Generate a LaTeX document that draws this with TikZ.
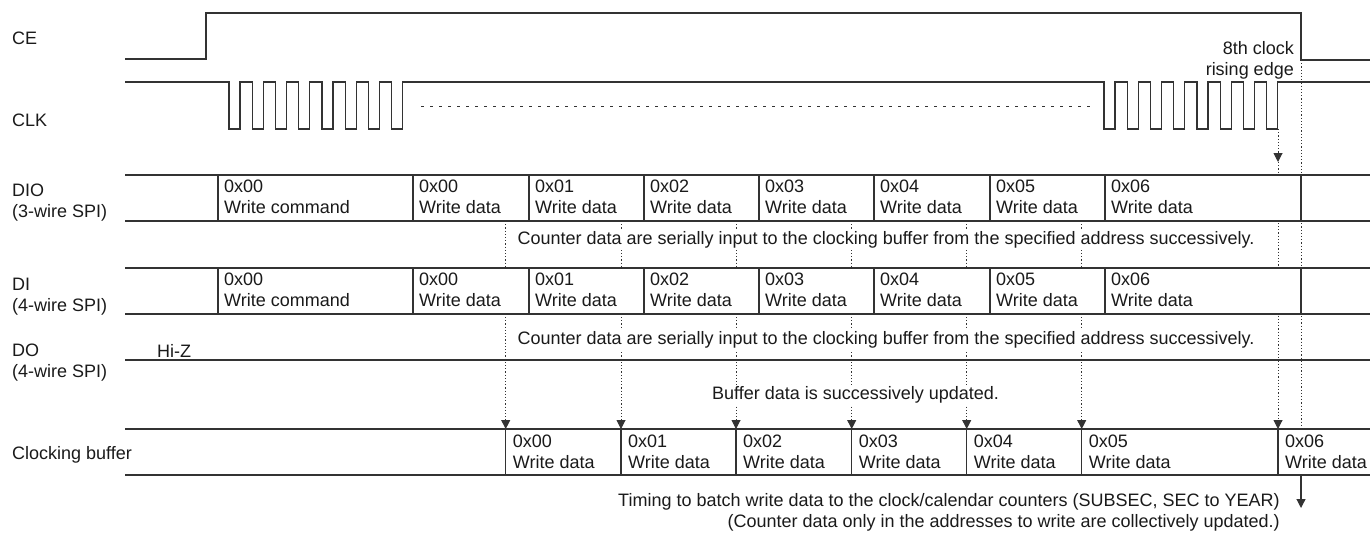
\documentclass[tikz,border=0pt]{standalone}
\usepackage{fontspec}
\setmainfont{Liberation Sans}
\usetikzlibrary{arrows.meta,positioning,calc}
\definecolor{tdInk} {HTML}{1A1A1A}
\definecolor{tdWire}{HTML}{333333}

\begin{document}
\begin{tikzpicture}[x=1pt,y=-1pt,font=\fontsize{18}{21}\selectfont,
    wire/.style={draw=tdWire,line width=1.2pt},
    dotline/.style={draw=tdWire,line width=1pt,dash pattern=on 1.2pt off 2pt},
    gapline/.style={draw=tdWire,line width=1pt,dash pattern=on 2.5pt off 6.5pt},
    tip/.style={-{Triangle[width=9pt,length=9pt]}},
    sig/.style={anchor=west,align=left,inner sep=0pt,text=tdInk},
    cell/.style={anchor=west,align=left,inner sep=0pt,text=tdInk},
    note/.style={fill=white,inner sep=1.5pt,text=tdInk}]

  \useasboundingbox (0,0) rectangle (1370,533);

  % signal names
  \node[sig] (ceName)  at (12,38)  {CE};
  \node[sig] (clkName) at (12,120) {CLK};
  \node[sig] (dioName) at (12,203) {DIO\\(3-wire SPI)};
  \node[sig] (diName)  at (12,297) {DI\\(4-wire SPI)};
  \node[sig] (doName)  at (12,363) {DO\\(4-wire SPI)};
  \node[sig] (bufName) at (12,455) {Clocking buffer};

  % CE
  \draw[wire] (125,59) -- (206,59) -- (206,13) -- (1301,13) -- (1301,60) -- (1370,60);

  % CLK, two bursts of 8 pulses
  \draw[wire] (125,82) -- (229,82)
    \foreach \k in {1,...,8} { -- ++(0,47) -- ++(11,0) -- ++(0,-47) -- ++(12.25,0) }
    -- (1104,82)
    \foreach \k in {1,...,8} { -- ++(0,47) -- ++(11,0) -- ++(0,-47) -- ++(12.25,0) }
    -- (1370,82);
  \draw[gapline] (421,106) -- (1090,106);
  \node[anchor=east,align=right,inner sep=0pt,text=tdInk] (edgeLbl) at (1294,60)
    {8th clock\\rising edge};

  % timing lines (rows are drawn over them)
  \foreach \x [count=\i] in {505.7,621,736,851.7,966.7,1081.7} {
    \coordinate (top\i) at (\x,221);
    \coordinate (buf\i) at (\x,429);
    \draw[dotline,tip] (top\i) -- (buf\i);
  }
  \coordinate (edge8)  at (1278,129);
  \coordinate (edge8a) at (1278,162);
  \coordinate (buf7)   at (1278,429);
  \draw[dotline,tip] (edge8) -- (edge8a);
  \draw[dotline,tip] (edge8a) -- (buf7);
  \coordinate (ceFall) at (1301,60);
  \coordinate (bufEnd) at (1301,429);
  \draw[dotline] (ceFall) -- (bufEnd);

  % DIO / DI rows
  \foreach \row/\y in {dio/175,di/268} {
    \fill[white] (125,\y) rectangle (1370,\y+46);
    \draw[wire] (125,\y) -- (1370,\y) (125,\y+46) -- (1370,\y+46);
    \foreach \x in {218,413,529,644,759,874,990,1105,1301}
      \draw[wire] (\x,\y) -- (\x,\y+46);
    \foreach \x/\a/\t [count=\i] in {218/0x00/Write command,413/0x00/Write data,
        529/0x01/Write data,644/0x02/Write data,759/0x03/Write data,
        874/0x04/Write data,990/0x05/Write data,1105/0x06/Write data}
      \node[cell] (\row-\i) at (\x+6,\y+22) {\a\\\t};
  }
  \node[note] (serDio) at (886,240)
    {Counter data are serially input to the clocking buffer from the specified address successively.};
  \node[note] (serDi) at (886,340)
    {Counter data are serially input to the clocking buffer from the specified address successively.};

  % DO
  \draw[wire] (125,360) -- (1370,360);
  \node[sig] (hiz) at (157,351) {Hi-Z};
  \node[note] (updLbl) at (855.5,395) {Buffer data is successively updated.};

  % clocking buffer
  \draw[wire] (125,429) -- (1370,429) (125,475) -- (1370,475);
  \foreach \x/\a [count=\i] in {505.7/0x00,621/0x01,736/0x02,851.7/0x03,
      966.7/0x04,1081.7/0x05,1278/0x06} {
    \draw[wire] (\x,429) -- (\x,475);
    \node[cell] (cb-\i) at (\x+7,452) {\a\\Write data};
  }

  % batch write
  \coordinate (batchFrom) at (1301,475);
  \coordinate (batchTo)   at (1301,508);
  \draw[wire,tip] (batchFrom) -- (batchTo);
  \node[anchor=east,align=right,inner sep=0pt,text=tdInk] (batchLbl) at (1280,512.5)
    {Timing to batch write data to the clock/calendar counters (SUBSEC, SEC to YEAR)\\
     (Counter data only in the addresses to write are collectively updated.)};
\end{tikzpicture}
\end{document}
